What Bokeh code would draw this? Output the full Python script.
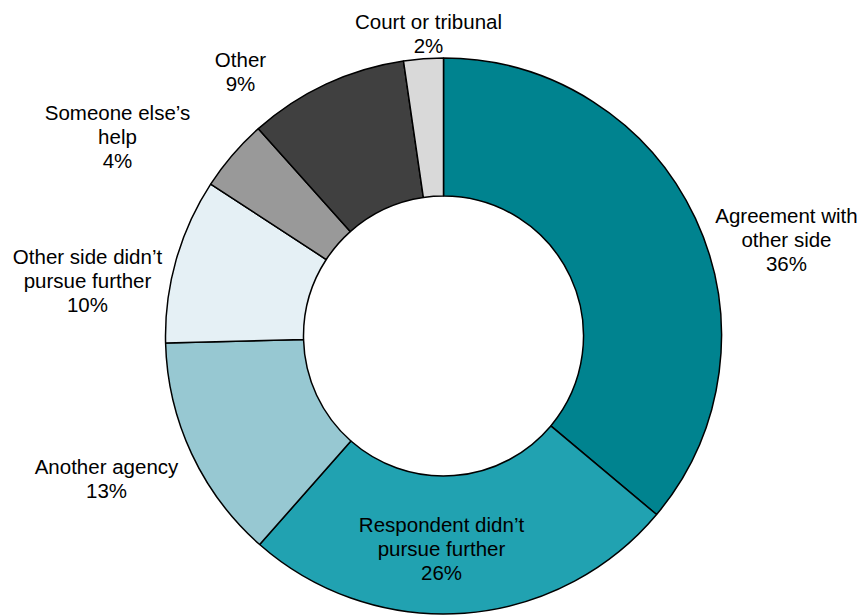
import math
from bokeh.plotting import figure
from bokeh.models import Range1d, ColumnDataSource
from bokeh.embed import file_html
from bokeh.resources import INLINE

# ---- data ----
categories = ["Agreement with\nother side", "Respondent didn\u2019t\npursue further",
              "Another agency", "Other side didn\u2019t\npursue further",
              "Someone else\u2019s\nhelp", "Other", "Court or tribunal"]
values = [36.1, 25.4, 13.1, 9.6, 4.2, 9.3, 2.3]
pct_labels = ["36%", "26%", "13%", "10%", "4%", "9%", "2%"]
colors = ["#00838F", "#21A2B1", "#97C8D2", "#E5F0F5", "#999999", "#404040", "#D9D9D9"]

# ---- layout (pixels) ----
W, H = 864, 615
cx, cy = 443, 279.5
r_out, r_in = 278, 140
# label offsets from donut centre (annotation placement)
label_dx = [343, -2, -337, -356, -326, -203, -15]
label_dy = [96.5, -212.5, -142.5, 55.5, 199.5, 264.5, 302.5]

total = sum(values)
starts, ends = [], []
acc = 0.0
for v in values:
    starts.append(math.pi / 2 - 2 * math.pi * acc / total)
    acc += v
    ends.append(math.pi / 2 - 2 * math.pi * acc / total)

src = ColumnDataSource(dict(start=starts, end=ends, color=colors))

p = figure(width=W, height=H, output_backend="svg", toolbar_location=None,
           x_range=Range1d(0, W), y_range=Range1d(0, H),
           min_border=0, outline_line_color=None)
p.axis.visible = False
p.grid.visible = False

p.annular_wedge(x=cx, y=cy, inner_radius=r_in, outer_radius=r_out,
                start_angle="start", end_angle="end", direction="clock",
                fill_color="color", line_color="black", line_width=1.5, source=src)

lab = ColumnDataSource(dict(
    x=[cx + d for d in label_dx],
    y=[cy + d for d in label_dy],
    t=[c + "\n" + s for c, s in zip(categories, pct_labels)],
))
p.text(x="x", y="y", text="t", source=lab, text_align="center", text_baseline="middle",
       text_font_size="20.5px", text_font={"value": "Liberation Sans"},
       text_color="black", text_line_height=1.05)

open("out.html", "w").write(file_html(p, INLINE))
